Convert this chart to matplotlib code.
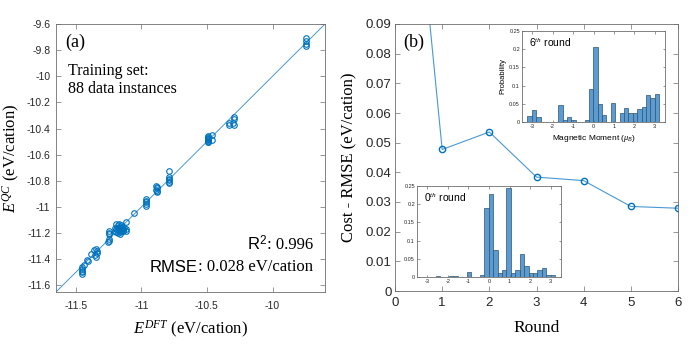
import numpy as np
import matplotlib
matplotlib.use("Agg")
import matplotlib.pyplot as plt
from matplotlib.ticker import FuncFormatter

plt.rcParams['font.family'] = ['Liberation Sans', 'DejaVu Sans']
plt.rcParams['axes.unicode_minus'] = False
plt.rcParams['mathtext.fontset'] = 'custom'
plt.rcParams['mathtext.rm'] = 'Liberation Sans'
plt.rcParams['mathtext.it'] = 'Liberation Serif:italic'
plt.rcParams['mathtext.bf'] = 'Liberation Sans:bold'

# ---------------- data ----------------
e_dft = ([-9.748] * 4
         + [-10.330, -10.330, -10.292, -10.292, -10.292, -10.300]
         + [-10.490] * 9 + [-10.462, -10.462]
         + [-10.789] * 6
         + [-10.886, -10.880, -10.883, -10.886, -10.880, -10.883]
         + [-10.964] * 5
         + [-11.055]
         + [-11.19, -11.18, -11.17, -11.155, -11.116, -11.20, -11.19, -11.18, -11.17, -11.16,
            -11.15, -11.14, -11.13, -11.12, -11.12, -11.20, -11.19, -11.17, -11.16, -11.15,
            -11.14, -11.175, -11.165, -11.18, -11.16, -11.15, -11.17, -11.16]
         + [-11.245, -11.245, -11.245, -11.245, -11.245, -11.25]
         + [-11.386, -11.358, -11.347, -11.340, -11.340, -11.353, -11.345]
         + [-11.41, -11.405]
         + [-11.44]
         + [-11.455] * 5)
e_qc = ([-9.708, -9.728, -9.750, -9.768]
        + [-10.355, -10.370, -10.310, -10.325, -10.372, -10.360]
        + [-10.458, -10.464, -10.470, -10.476, -10.482, -10.488, -10.494, -10.499, -10.504, -10.452, -10.490]
        + [-10.727, -10.770, -10.782, -10.795, -10.806, -10.818]
        + [-10.838, -10.848, -10.858, -10.868, -10.878, -10.888]
        + [-10.940, -10.952, -10.964, -10.977, -10.990]
        + [-11.043]
        + [-11.13, -11.14, -11.13, -11.135, -11.115, -11.16, -11.17, -11.16, -11.155, -11.16,
           -11.165, -11.17, -11.16, -11.17, -11.18, -11.18, -11.19, -11.185, -11.175, -11.18,
           -11.18, -11.20, -11.21, -11.17, -11.19, -11.15, -11.165, -11.17]
        + [-11.183, -11.195, -11.209, -11.247, -11.258, -11.265]
        + [-11.361, -11.327, -11.318, -11.335, -11.350, -11.369, -11.386]
        + [-11.405, -11.415]
        + [-11.445]
        + [-11.46, -11.475, -11.49, -11.50, -11.512])

rounds = [0, 1, 2, 3, 4, 5, 6]
rmse = [0.21, 0.0477, 0.0536, 0.0384, 0.0372, 0.0285, 0.0279]

bin_edges = list(np.round(np.linspace(-3.235, 3.215, 31), 4))
prob_round0 = [0, 0, 0, 0.003, 0, 0, 0.003, 0.003, 0, 0, 0.014, 0, 0, 0.006,
               0.190, 0.227, 0.073, 0.012, 0.018, 0.245, 0.012, 0.018, 0.062, 0.030,
               0.012, 0.012, 0.018, 0.025, 0.006, 0.006]
prob_round6 = [0.017, 0.034, 0.014, 0, 0, 0, 0, 0.047, 0.006, 0.013, 0.006, 0, 0, 0.006,
               0.091, 0.205, 0.049, 0.020, 0, 0.053, 0, 0.026, 0.039, 0.026, 0.026,
               0.036, 0.040, 0.074, 0.067, 0.078]

# ---------------- style ----------------
BLUE = '#0072BD'
LINE = '#4a98d3'
BAR = '#5b9bd0'
BAREDGE = '#2d5475'
SPINE = '#6e6e6e'
SERIF = 'Liberation Serif'
W, H = 692, 346


def frac(x0, y0, x1, y1):
    return [x0 / W, 1 - y1 / H, (x1 - x0) / W, (y1 - y0) / H]


def style_axes(ax, size, length=3.0, pad=2.5):
    for s in ax.spines.values():
        s.set_color(SPINE)
        s.set_linewidth(0.6)
    ax.tick_params(direction='in', top=True, right=True, length=length, width=0.5,
                   color=SPINE, labelsize=size, labelcolor='#262626', pad=pad)


fig = plt.figure(figsize=(W / 100, H / 100), dpi=100)

# ---------------- (a) ----------------
ax1 = fig.add_axes(frac(56, 24, 325, 292))
lims = [-11.65, -9.6]
ax1.plot(lims, lims, color=LINE, lw=0.7, zorder=1)
ax1.plot(e_dft, e_qc, linestyle='none', marker='o', ms=4, mfc='none', mec=BLUE, mew=0.8, zorder=2)
ax1.set_xlim(lims)
ax1.set_ylim(lims)
ax1.set_xticks([-11.5, -11, -10.5, -10])
ax1.set_yticks(np.round(np.arange(-11.6, -9.59, 0.2), 1))
fmt = FuncFormatter(lambda v, p: '%g' % v)
ax1.xaxis.set_major_formatter(fmt)
ax1.yaxis.set_major_formatter(fmt)
style_axes(ax1, 7.5, 3.5, pad=4.0)
ax1.tick_params(axis='x', pad=6.5)
ax1.set_xlabel('$E^{DFT}$ (eV/cation)', family=SERIF, fontsize=12, labelpad=6)
ax1.set_ylabel('$E^{QC}$ (eV/cation)', family=SERIF, fontsize=12, labelpad=3)
ax1.text(0.033, 0.933, '(a)', transform=ax1.transAxes, family=SERIF, fontsize=13, va='center')
ax1.text(0.045, 0.825, 'Training set:', transform=ax1.transAxes, family=SERIF, fontsize=11.5, va='center')
ax1.text(0.045, 0.757, '88 data instances', transform=ax1.transAxes, family=SERIF, fontsize=11.5, va='center')
t1 = ax1.text(0.955, 0.160, ': 0.996', transform=ax1.transAxes, family=SERIF, fontsize=12, ha='right', va='baseline')
ax1.annotate('R$^{2}$', xy=(0, 0), xycoords=t1, family='Liberation Sans', fontsize=12, ha='right', va='bottom')
t2 = ax1.text(0.955, 0.078, ': 0.028 eV/cation', transform=ax1.transAxes, family=SERIF, fontsize=12, ha='right', va='baseline')
ax1.annotate('RMSE', xy=(0, 0), xycoords=t2, family='Liberation Sans', fontsize=12, ha='right', va='bottom')

# ---------------- (b) ----------------
ax2 = fig.add_axes(frac(395, 24, 678, 291))
ax2.plot(rounds, rmse, color=LINE, lw=0.8, marker='o', ms=4.5, mfc='none', mec=BLUE, mew=1.0)
ax2.set_xlim(0, 6)
ax2.set_ylim(0, 0.09)
ax2.set_xticks(range(0, 7))
ax2.set_yticks(np.round(np.arange(0, 0.0901, 0.01), 2))
ax2.yaxis.set_major_formatter(fmt)
style_axes(ax2, 9.5, 3.5)
ax2.tick_params(axis='x', pad=4)
ax2.set_xlabel('Round', family=SERIF, fontsize=12.5, labelpad=8)
ax2.set_ylabel('Cost - RMSE (eV/cation)', family=SERIF, fontsize=12, labelpad=6)
ax2.text(0.029, 0.93, '(b)', transform=ax2.transAxes, family=SERIF, fontsize=13, va='center')


def inset(box, probs, label, with_labels):
    ax = fig.add_axes(frac(*box))
    ax.bar(bin_edges[:-1], probs, width=np.diff(bin_edges), align='edge',
           color=BAR, edgecolor=BAREDGE, linewidth=0.5)
    ax.set_xlim(-3.5, 3.5)
    ax.set_ylim(0, 0.25)
    ax.set_xticks(range(-3, 4))
    ax.set_yticks([0, 0.05, 0.1, 0.15, 0.2, 0.25])
    ax.yaxis.set_major_formatter(fmt)
    style_axes(ax, 4, 1.8, pad=1.5)
    ax.text(0.047, 0.865, label, transform=ax.transAxes, fontsize=7.5, va='center')
    if with_labels:
        ax.set_ylabel('Probability', fontsize=5.5, labelpad=2)
        ax.set_xlabel(r'Magnetic Moment ($\mu_B$)', fontsize=6, labelpad=3)
    return ax


inset((522, 31, 665, 122), prob_round6, '6$^{th}$ round', True)
inset((417, 186, 561, 277), prob_round0, '0$^{th}$ round', False)

fig.savefig('out.png', dpi=100)
